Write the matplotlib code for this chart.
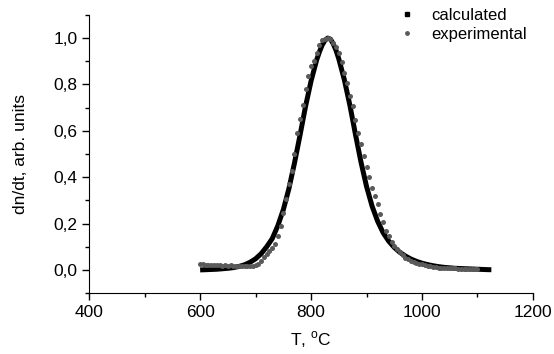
import matplotlib
matplotlib.use("Agg")
import matplotlib.pyplot as plt
from matplotlib.lines import Line2D
from matplotlib.ticker import MultipleLocator, FuncFormatter

plt.rcParams['font.family'] = ['Liberation Sans', 'DejaVu Sans']
plt.rcParams['mathtext.fontset'] = 'custom'
plt.rcParams['mathtext.rm'] = 'Liberation Sans'

# calculated curve, T (degC) and dn/dt
t_calc = [600, 610, 620, 630, 640, 650, 660, 670, 680, 690, 700, 710, 720, 730, 740,
          750, 760, 770, 780, 790, 800, 810, 815, 820, 825, 830, 835, 840, 845, 850,
          860, 870, 880, 890, 900, 910, 920, 930, 940, 950, 960, 970, 980, 990, 1000,
          1010, 1020, 1030, 1040, 1050, 1060, 1070, 1080, 1090, 1100, 1110, 1120, 1125]
y_calc = [0.000, 0.001, 0.002, 0.003, 0.005, 0.007, 0.010, 0.015, 0.022, 0.033, 0.048,
          0.070, 0.100, 0.135, 0.190, 0.260, 0.350, 0.460, 0.580, 0.705, 0.815, 0.905,
          0.940, 0.970, 0.990, 1.000, 0.995, 0.975, 0.947, 0.910, 0.820, 0.710, 0.585,
          0.465, 0.360, 0.275, 0.210, 0.160, 0.124, 0.097, 0.076, 0.060, 0.047, 0.037,
          0.029, 0.023, 0.018, 0.014, 0.011, 0.009, 0.007, 0.006, 0.005, 0.004, 0.003,
          0.002, 0.001, 0.001]

# experimental points
t_exp = list(range(600, 1101, 5))
y_exp = [0.025, 0.024, 0.022, 0.023, 0.021, 0.022, 0.020, 0.021, 0.019, 0.020,
         0.019, 0.020, 0.018, 0.019, 0.018, 0.018, 0.017, 0.018, 0.018, 0.019,
         0.021, 0.027, 0.038, 0.055, 0.068, 0.080, 0.095, 0.113, 0.145, 0.190,
         0.245, 0.305, 0.370, 0.425, 0.500, 0.590, 0.650, 0.710, 0.780, 0.835,
         0.880, 0.900, 0.935, 0.970, 0.990, 0.998, 1.000, 0.996, 0.980, 0.960,
         0.935, 0.895, 0.850, 0.805, 0.750, 0.705, 0.645, 0.590, 0.545, 0.490,
         0.445, 0.400, 0.355, 0.320, 0.285, 0.240, 0.205, 0.170, 0.145, 0.122,
         0.102, 0.090, 0.078, 0.066, 0.053, 0.045, 0.038, 0.033, 0.030, 0.027,
         0.024, 0.021, 0.017, 0.015, 0.013, 0.012, 0.010, 0.009, 0.009, 0.008,
         0.007, 0.007, 0.007, 0.006, 0.006, 0.006, 0.006, 0.006, 0.006, 0.006,
         0.006]

fig = plt.figure(figsize=(5.54, 3.54), dpi=100)
ax = fig.add_axes([0.161, 0.172, 0.801, 0.786])

ax.plot(t_calc, y_calc, color='black', lw=3.6, solid_capstyle='butt', solid_joinstyle='round')
ax.plot(t_exp, y_exp, 'o', color='#5a5a5a', ms=3.6, mew=0)

ax.set_xlim(400, 1200)
ax.set_ylim(-0.1, 1.1)
ax.xaxis.set_major_locator(MultipleLocator(200))
ax.xaxis.set_minor_locator(MultipleLocator(100))
ax.yaxis.set_minor_locator(MultipleLocator(0.1))
ax.set_yticks([0, 0.2, 0.4, 0.6, 0.8, 1.0])
ax.yaxis.set_major_formatter(FuncFormatter(lambda v, p: f"{v:.1f}".replace('.', ',')))
ax.tick_params(which='major', direction='out', length=5, width=1, labelsize=12.5)
ax.tick_params(which='minor', direction='out', length=3, width=1)
for s in ['top', 'right']:
    ax.spines[s].set_visible(False)

ax.set_xlabel('T, $^{\\mathrm{o}}$C', fontsize=12.5, labelpad=7)
ax.set_ylabel('dn/dt, arb. units', fontsize=12.5, labelpad=18)

handles = [Line2D([], [], ls='', marker='s', color='black', ms=3.5),
           Line2D([], [], ls='', marker='o', color='#5a5a5a', ms=3.5, mew=0)]
fig.legend(handles, ['calculated', 'experimental'], loc='upper left',
           bbox_to_anchor=(0.677, 1.019), frameon=False, fontsize=12,
           handletextpad=0.5, labelspacing=0.2)

fig.savefig('out.png', dpi=100)
